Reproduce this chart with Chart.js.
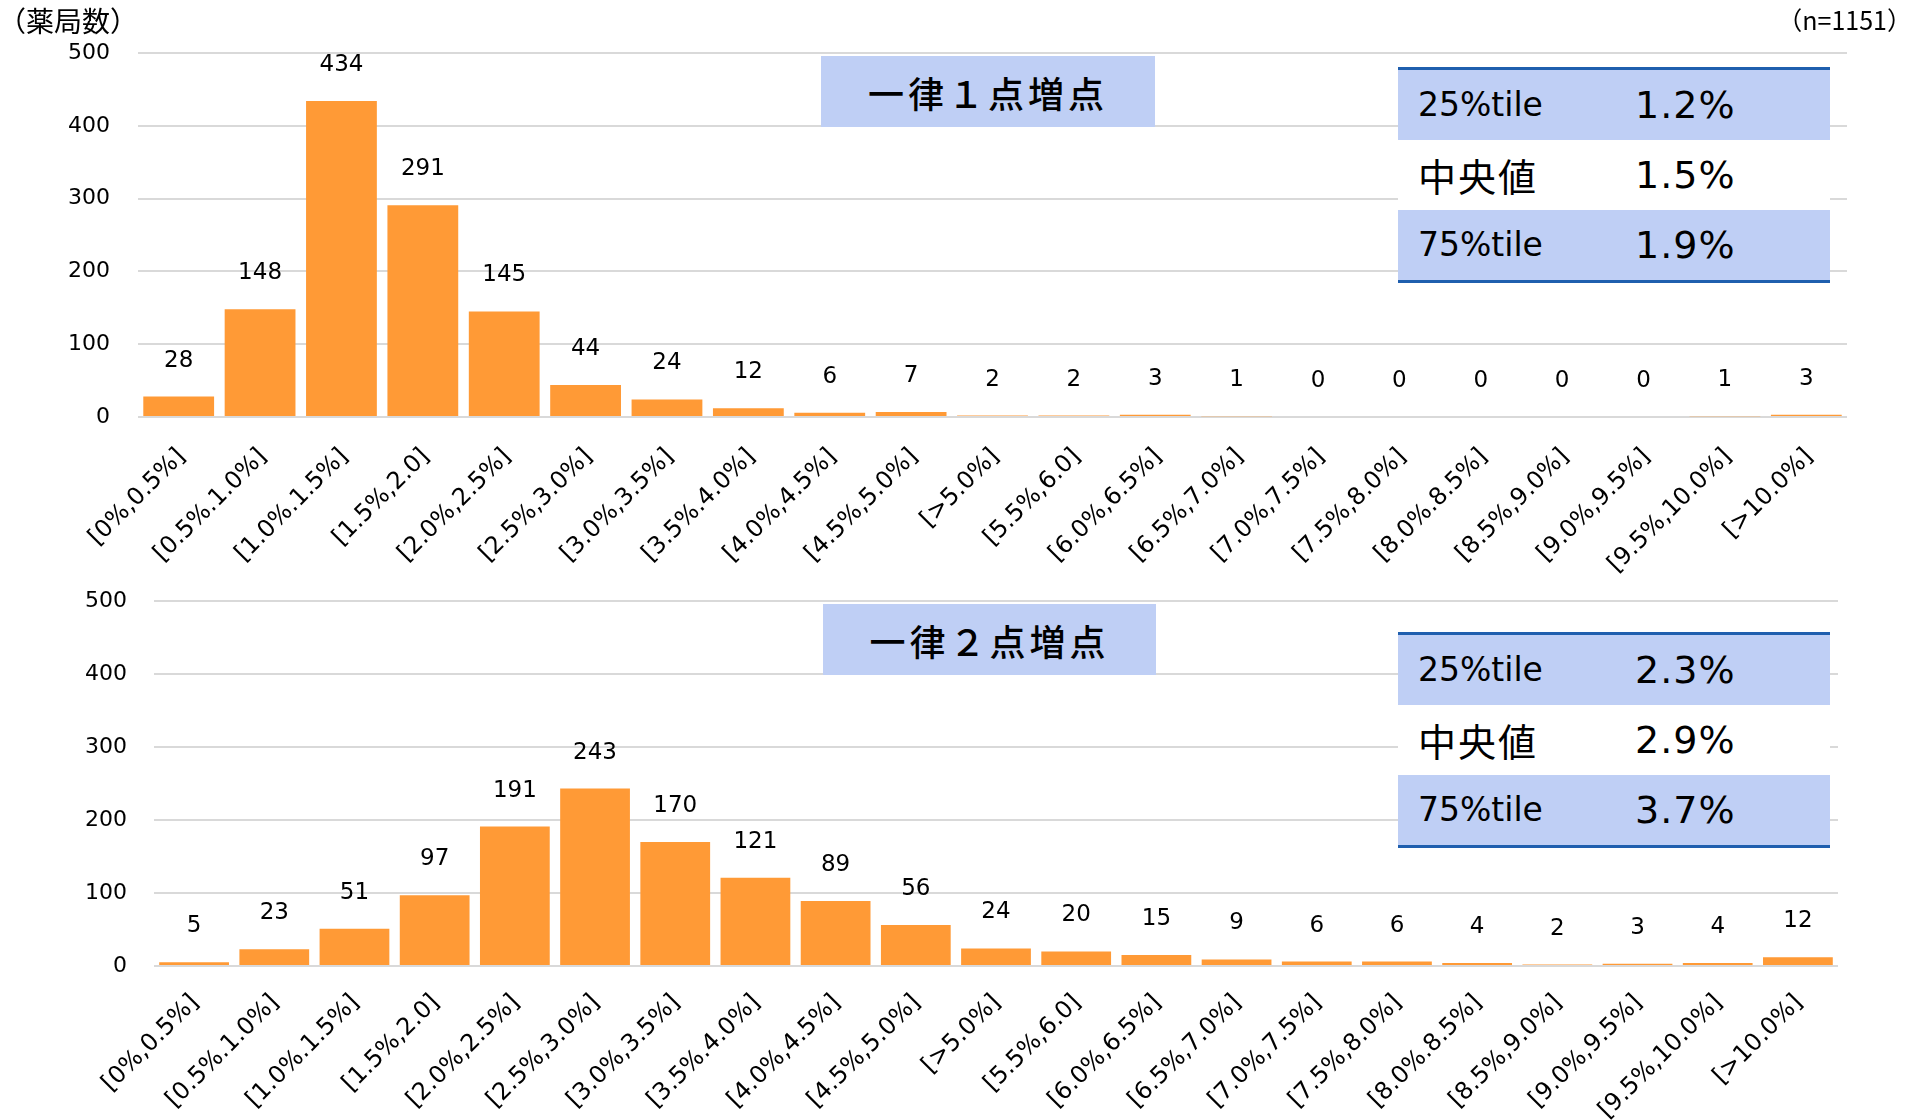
<!DOCTYPE html>
<html lang="ja">
<head>
<meta charset="utf-8">
<title>薬局数の分布</title>
<script src="https://cdn.jsdelivr.net/npm/chart.js@4.4.1/dist/chart.umd.min.js"></script>
<style>
  body { margin: 0; background: #fff; }
  #page { position: relative; width: 1918px; height: 1120px; overflow: hidden; }
  canvas { position: absolute; left: 0; }
  .note { position: absolute; font-family: "Noto Sans CJK JP", sans-serif; color: #000; white-space: nowrap; }
  .title-box {
    position: absolute; background: #BFCFF5; color: #000;
    font-family: "Noto Sans CJK JP", sans-serif; font-size: 36px; font-weight: 500; letter-spacing: 4px;
    display: flex; align-items: center; justify-content: center;
  }
  .stats { position: absolute; left: 1398px; width: 432px; border-top: 3px solid #1F5FAE; border-bottom: 3px solid #1F5FAE; }
  .stats .row { position: relative; height: 70px; background: #fff; }
  .stats .row.shade { background: #BFCFF5; }
  .stats .lbl { position: absolute; left: 20px; top: 0; line-height: 70px; font-family: "DejaVu Sans", sans-serif; font-size: 33px; color: #000; }
  .stats .lbl.jp { font-family: "Noto Sans CJK JP", sans-serif; font-size: 38px; letter-spacing: 2px; }
  .stats .val { position: absolute; left: 237px; top: 0; line-height: 70px; font-family: "DejaVu Sans", sans-serif; font-size: 38px; letter-spacing: 1px; color: #000; }
</style>
</head>
<body>
<div id="page">
  <!-- 上のグラフは斜めラベルが下のグラフ領域に少しはみ出すので高めにとる -->
  <canvas id="chart1" width="1918" height="600" style="top:0"></canvas>
  <canvas id="chart2" width="1918" height="560" style="top:560px"></canvas>

  <div class="note" style="left:-2px; top:0px; font-size:28px;">（薬局数）</div>
  <div class="note" style="right:6px; top:1px; font-size:25px;">（n=1151）</div>

  <div class="title-box" style="left:821px; top:56px; width:334px; height:71px;">一律１点増点</div>
  <div class="title-box" style="left:823px; top:604px; width:333px; height:71px;">一律２点増点</div>

  <div class="stats" id="stats1" style="top:67px;"></div>
  <div class="stats" id="stats2" style="top:632px;"></div>
</div>

<script>
// 増点率の区間（元の表記のまま）
const categories = [
    '[0%,0.5%]', '[0.5%.1.0%]', '[1.0%.1.5%]', '[1.5%,2.0]', '[2.0%,2.5%]',
    '[2.5%,3.0%]', '[3.0%,3.5%]', '[3.5%.4.0%]', '[4.0%,4.5%]', '[4.5%,5.0%]',
    '[>5.0%]', '[5.5%,6.0]', '[6.0%,6.5%]', '[6.5%,7.0%]', '[7.0%,7.5%]',
    '[7.5%,8.0%]', '[8.0%.8.5%]', '[8.5%,9.0%]', '[9.0%,9.5%]', '[9.5%,10.0%]',
    '[>10.0%]'
];

// 薬局数
const onePointCounts = [28, 148, 434, 291, 145, 44, 24, 12, 6, 7, 2, 2, 3, 1, 0, 0, 0, 0, 0, 1, 3];
const twoPointCounts = [5, 23, 51, 97, 191, 243, 170, 121, 89, 56, 24, 20, 15, 9, 6, 6, 4, 2, 3, 4, 12];

const yTicks = [0, 100, 200, 300, 400, 500];

// 四分位の表
const statLabels = ['25%tile', '中央値', '75%tile'];
const onePointStats = ['1.2%', '1.5%', '1.9%'];
const twoPointStats = ['2.3%', '2.9%', '3.7%'];

const BAR_COLOR = '#FF9A36';
const GRID_COLOR = '#D9D9D9';
const FONT = '"DejaVu Sans", sans-serif';

function fillStats(id, values) {
    const box = document.getElementById(id);
    statLabels.forEach((label, i) => {
        const row = document.createElement('div');
        row.className = 'row' + (i % 2 === 0 ? ' shade' : '');
        const l = document.createElement('span');
        l.className = 'lbl' + (label === '中央値' ? ' jp' : '');
        l.textContent = label;
        const v = document.createElement('span');
        v.className = 'val';
        v.textContent = values[i];
        row.appendChild(l);
        row.appendChild(v);
        box.appendChild(row);
    });
}
fillStats('stats1', onePointStats);
fillStats('stats2', twoPointStats);

// 棒の上に件数を書く
const valueLabels = {
    id: 'valueLabels',
    afterDatasetsDraw(chart) {
        const ctx = chart.ctx;
        const meta = chart.getDatasetMeta(0);
        const values = chart.data.datasets[0].data;
        ctx.save();
        ctx.font = '23px ' + FONT;
        ctx.fillStyle = '#000';
        ctx.textAlign = 'center';
        ctx.textBaseline = 'middle';
        meta.data.forEach((bar, i) => {
            ctx.fillText(String(values[i]), bar.x, bar.y - 36);
        });
        ctx.restore();
    }
};

// 斜めの区間ラベル（Excel風に棒の中心より少し右で終わる）
const slantLabels = {
    id: 'slantLabels',
    afterDraw(chart, args, opts) {
        const ctx = chart.ctx;
        const xs = chart.scales.x;
        ctx.save();
        ctx.font = '24px ' + FONT;
        ctx.fillStyle = '#000';
        ctx.textAlign = 'right';
        ctx.textBaseline = 'middle';
        chart.data.labels.forEach((label, i) => {
            const x = xs.getPixelForValue(i);
            ctx.save();
            ctx.translate(x + opts.dx, xs.top + opts.dy);
            ctx.rotate(-Math.PI / 4);
            ctx.fillText(label, 0, 0);
            ctx.restore();
        });
        ctx.restore();
    }
};

function makeChart(canvasId, counts, box) {
    const ctx = document.getElementById(canvasId).getContext('2d');
    return new Chart(ctx, {
        type: 'bar',
        data: {
            labels: categories,
            datasets: [{
                data: counts,
                backgroundColor: BAR_COLOR,
                borderWidth: 0,
                barPercentage: 0.87,
                categoryPercentage: 1.0
            }]
        },
        options: {
            responsive: false,
            animation: false,
            layout: { padding: { top: box.top, right: box.right, bottom: 0, left: 0 } },
            scales: {
                x: {
                    grid: { display: false },
                    border: { display: false },
                    ticks: { display: false },
                    afterFit: (scale) => { scale.height = box.xHeight; }
                },
                y: {
                    min: 0,
                    max: 500,
                    afterBuildTicks: (scale) => { scale.ticks = yTicks.map(v => ({ value: v })); },
                    grid: { color: GRID_COLOR, lineWidth: 2, drawTicks: false },
                    border: { display: false },
                    ticks: {
                        padding: box.tickPad,
                        color: '#000',
                        font: { family: FONT, size: 22 }
                    },
                    afterFit: (scale) => { scale.width = box.yWidth; }
                }
            },
            plugins: {
                legend: { display: false },
                tooltip: { enabled: false },
                slantLabels: { dx: box.labelDx, dy: box.labelDy }
            }
        },
        plugins: [valueLabels, slantLabels]
    });
}

makeChart('chart1', onePointCounts, { top: 53, right: 71, xHeight: 183, yWidth: 138, tickPad: 28, labelDx: 3, labelDy: 36 });
makeChart('chart2', twoPointCounts, { top: 41, right: 80, xHeight: 154, yWidth: 154, tickPad: 27, labelDx: 1, labelDy: 33 });
</script>
</body>
</html>
